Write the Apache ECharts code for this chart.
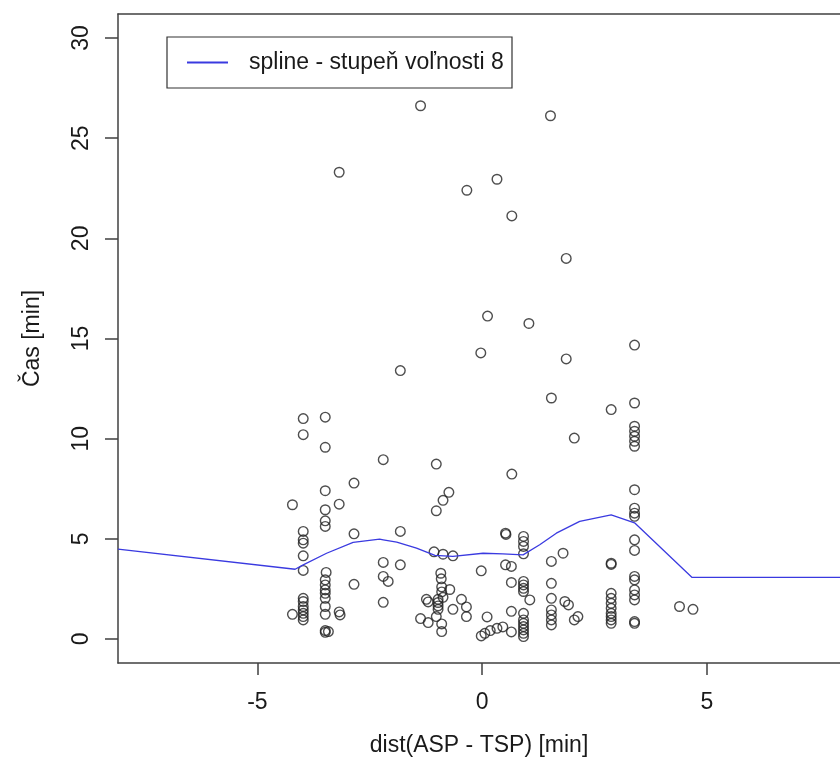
<!DOCTYPE html>
<html><head><meta charset="utf-8">
<script src="https://cdn.jsdelivr.net/npm/echarts@6/dist/echarts.min.js"></script>
<style>html,body{margin:0;padding:0;background:#fff}#chart{width:840px;height:774px}</style>
</head><body><div id="chart"></div>
<script>
// ---- data ----
const obsX = [
 -3.98,-3.98,-3.98,-3.98,-3.98,-3.98,-3.98,-3.98,-3.98,-3.98,-3.98,-3.98,-3.98,-3.98,
 -4.22,-4.22,
 -3.49,-3.49,-3.49,-3.49,-3.49,-3.49,-3.47,-3.49,-3.49,-3.49,-3.49,-3.49,-3.49,-3.49,-3.49,-3.49,-3.42,
 -3.18,-3.18,-3.16,-3.18,
 -2.85,-2.85,-2.85,
 -2.2,-2.2,-2.2,-2.09,-2.2,
 -1.82,-1.82,-1.82,
 -1.02,-0.74,-0.87,-1.02,-1.07,-0.87,-0.65,
 -0.92,-0.91,-0.9,-0.9,-0.72,-1.24,-1.2,-0.98,-0.98,-0.98,-0.98,-0.87,-0.65,-0.46,-0.35,-0.35,-1.37,-1.2,-1.02,-0.9,-0.9,
 -0.02,0.11,-0.02,0.06,0.18,0.33,0.46,0.65,
 0.52,0.53,0.52,0.65,0.66,0.65,0.65,
 0.92,0.92,0.92,0.92,0.92,0.92,0.92,0.92,0.92,0.92,0.92,0.92,0.92,0.92,0.92,
 1.06,
 1.54,1.54,1.54,1.54,1.54,1.54,1.54,1.54,
 1.52,
 1.8,1.84,1.92,
 2.05,2.05,2.13,
 2.87,2.87,2.87,2.87,2.87,2.87,2.87,2.87,2.87,2.87,2.87,
 3.39,3.39,3.39,3.39,3.39,3.39,3.39,3.39,3.39,3.39,3.39,3.39,3.39,3.39,3.39,3.39,3.39,3.39,3.39,3.39,
 4.39,4.69,
 -1.37,-0.34,0.33,0.66,1.87,0.12,1.04,-0.03,1.87
];
const obsY = [
 11.0,10.2,5.37,4.95,4.78,4.15,3.42,2.03,1.87,1.62,1.45,1.28,1.12,0.95,
 6.7,1.23,
 11.07,9.57,7.4,6.45,5.9,5.62,3.32,2.95,2.7,2.45,2.28,2.03,1.62,1.23,0.42,0.33,0.37,
 6.73,1.35,1.2,23.3,
 7.78,5.25,2.73,
 8.95,3.82,3.12,2.87,1.83,
 5.37,3.7,13.4,
 8.73,7.32,6.92,6.4,4.35,4.23,4.15,
 3.28,3.0,2.6,2.35,2.47,1.98,1.85,1.98,1.82,1.65,1.48,2.08,1.48,1.98,1.6,1.12,1.02,0.82,1.12,0.75,0.37,
 3.4,1.1,0.15,0.28,0.42,0.53,0.6,0.35,
 5.28,5.22,3.7,3.62,8.23,2.82,1.38,
 5.12,4.87,4.62,4.25,2.87,2.7,2.53,2.37,1.28,0.95,0.78,0.62,0.45,0.28,0.12,
 1.95,
 12.03,3.87,2.78,2.03,1.45,1.2,0.95,0.7,
 26.12,
 4.28,1.87,1.7,
 10.03,0.95,1.12,
 11.45,3.78,3.72,2.28,2.03,1.78,1.53,1.28,1.12,0.95,0.78,
 14.67,11.78,10.62,10.37,10.12,9.87,9.62,7.45,6.53,6.28,6.12,4.95,4.42,3.12,2.95,2.45,2.2,1.95,0.87,0.78,
 1.62,1.48,
 26.62,22.4,22.95,21.12,19.0,16.12,15.75,14.28,13.98
];
const splineX = [-8.1,-4.16,-3.98,-3.46,-2.87,-2.28,-2.2,-1.9,-1.46,-1.05,-0.65,0.02,0.46,0.91,1.28,1.65,2.17,2.87,3.39,4.67,8.1];
const splineY = [4.48,3.48,3.7,4.28,4.82,4.98,4.95,4.83,4.53,4.17,4.12,4.28,4.25,4.2,4.7,5.28,5.87,6.2,5.8,3.07,3.07];
const xTicks = [-5, 0, 5];
const yTicks = [0, 5, 10, 15, 20, 25, 30];
const xTitle = 'dist(ASP - TSP) [min]';
const yTitle = 'Čas [min]';
const legendLabel = 'spline - stupeň voľnosti 8';

// ---- font selection ----
function fontAvailable(name){
  const ctx = document.createElement('canvas').getContext('2d');
  const s = legendLabel + ' 0123456789';
  ctx.font = '40px monospace'; const a = ctx.measureText(s).width;
  ctx.font = '40px "' + name + '", monospace'; const b = ctx.measureText(s).width;
  return Math.abs(a - b) > 0.5;
}
const narrow = fontAvailable('Liberation Sans Narrow');
const FF = narrow ? '"Liberation Sans Narrow", "Liberation Sans", sans-serif' : '"Liberation Sans", Arial, sans-serif';
const FS = narrow ? 26 : 23;
const mctx = document.createElement('canvas').getContext('2d');
mctx.font = FS + 'px ' + FF;
const legendTextW = mctx.measureText(legendLabel).width;

const TXT = '#1a1a1a';
const AX = '#404040';
const textBase = {fontFamily: FF, fontSize: FS, color: TXT, lineHeight: FS};

const chart = echarts.init(document.getElementById('chart'), null, {renderer: 'canvas'});
chart.setOption({
  animation: false,
  backgroundColor: '#fff',
  grid: {left: 118, right: 0, top: 14, bottom: 111, containLabel: false},
  legend: {
    show: true, left: 167, top: 37, selectedMode: false,
    padding: [14, Math.max(4, 263 - legendTextW), 14, 20],
    borderColor: '#333', borderWidth: 1.2, backgroundColor: '#fff',
    itemWidth: 57, itemHeight: 2,
    itemStyle: {borderWidth: 0},
    textStyle: textBase,
    data: [{name: legendLabel, icon: 'path://M0,0h41v2h-41zM57,0h0.001v2h-0.001z'}]
  },
  xAxis: [{
    type: 'value', min: -8.1, max: 7.96, position: 'bottom',
    axisLine: {show: true, onZero: false, lineStyle: {color: AX, width: 1.5}},
    axisTick: {show: true, inside: false, length: 12, customValues: xTicks, lineStyle: {color: AX, width: 1.5}},
    axisLabel: Object.assign({show: true, margin: 28, customValues: xTicks}, textBase),
    splitLine: {show: false},
    name: xTitle, nameLocation: 'middle', nameGap: 71, nameTextStyle: textBase
  }, {
    type: 'value', min: -8.1, max: 7.96, position: 'top',
    axisLine: {show: true, onZero: false, lineStyle: {color: AX, width: 1.5}},
    axisTick: {show: false}, axisLabel: {show: false}, splitLine: {show: false}
  }],
  yAxis: [{
    type: 'value', min: -1.2, max: 31.2, position: 'left',
    axisLine: {show: true, onZero: false, lineStyle: {color: AX, width: 1.5}},
    axisTick: {show: true, inside: false, length: 13, customValues: yTicks, lineStyle: {color: AX, width: 1.5}},
    axisLabel: Object.assign({show: true, margin: 25, rotate: 90, customValues: yTicks}, textBase),
    splitLine: {show: false},
    name: yTitle, nameLocation: 'middle', nameGap: 74, nameRotate: 90, nameTextStyle: textBase
  }],
  series: [{
    type: 'scatter', name: 'obs', xAxisIndex: 0, yAxisIndex: 0,
    data: obsX.map((x, i) => [x, obsY[i]]),
    symbol: 'circle', symbolSize: 9.6, silent: true, z: 2,
    itemStyle: {color: 'rgba(0,0,0,0)', borderColor: '#222', borderWidth: 1.4}
  }, {
    type: 'line', name: legendLabel, xAxisIndex: 0, yAxisIndex: 0,
    data: splineX.map((x, i) => [x, splineY[i]]),
    showSymbol: false, symbol: 'none', silent: true, z: 3,
    lineStyle: {color: '#3a3ae0', width: 1.3},
    itemStyle: {color: '#3a3ae0', borderWidth: 0}
  }]
});
</script>
</body></html>
